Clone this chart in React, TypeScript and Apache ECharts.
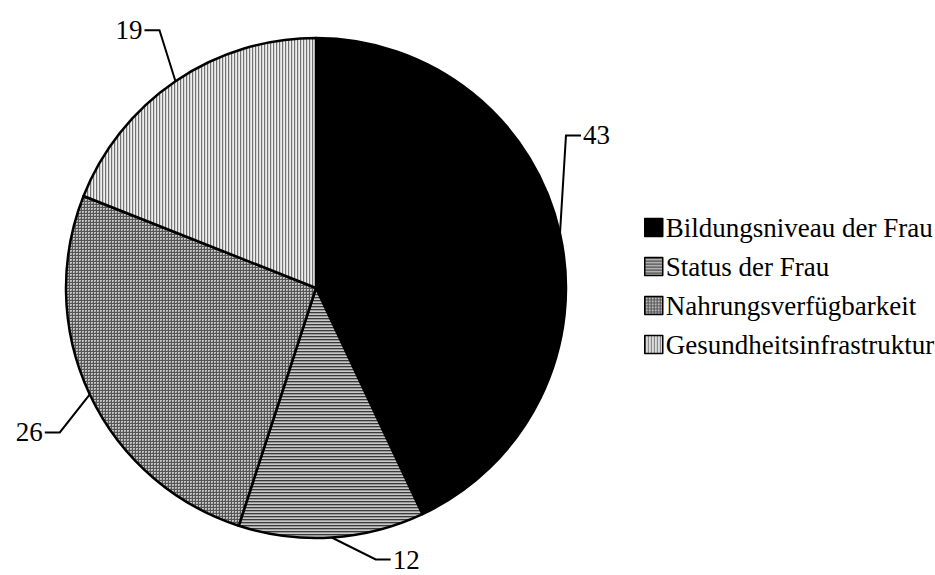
import React, { useEffect, useRef } from "react";
import * as echarts from "echarts";

// Anteile der Einflussfaktoren (in %)
const categories = [
  "Bildungsniveau der Frau",
  "Status der Frau",
  "Nahrungsverfügbarkeit",
  "Gesundheitsinfrastruktur",
];
const shares = [43, 12, 26, 19];

// Leader-line bends for each label: offset of the elbow from the slice edge, and the tail direction
const bendDx = [6, 44, -30, -16];
const bendDy = [-98, 22, 38, -51];
const tailDir = [1, 1, -1, -1];

type Painter = (ctx: CanvasRenderingContext2D, w: number, h: number) => void;

function makeTile(w: number, h: number, paint: Painter): HTMLCanvasElement {
  const c = document.createElement("canvas");
  c.width = w;
  c.height = h;
  const ctx = c.getContext("2d")!;
  paint(ctx, w, h);
  return c;
}

function horizontalLines() {
  return {
    image: makeTile(1, 3, (ctx) => {
      ctx.fillStyle = "#9a9a9a";
      ctx.fillRect(0, 0, 1, 3);
      ctx.fillStyle = "#3a3a3a";
      ctx.fillRect(0, 0, 1, 1);
      ctx.fillStyle = "#c8c8c8";
      ctx.fillRect(0, 2, 1, 1);
    }),
    repeat: "repeat",
  };
}

function gridLines() {
  return {
    image: makeTile(3, 3, (ctx) => {
      ctx.fillStyle = "#c4c4c4";
      ctx.fillRect(0, 0, 3, 3);
      ctx.fillStyle = "#555555";
      ctx.fillRect(0, 0, 3, 1);
      ctx.fillRect(0, 0, 1, 3);
      ctx.fillStyle = "#969696";
      ctx.fillRect(2, 2, 1, 1);
    }),
    repeat: "repeat",
  };
}

function verticalLines() {
  return {
    image: makeTile(3, 1, (ctx) => {
      ctx.fillStyle = "#d6d6d6";
      ctx.fillRect(0, 0, 3, 1);
      ctx.fillStyle = "#727272";
      ctx.fillRect(0, 0, 1, 1);
      ctx.fillStyle = "#eeeeee";
      ctx.fillRect(2, 0, 1, 1);
    }),
    repeat: "repeat",
  };
}

export default function App() {
  const ref = useRef<HTMLDivElement>(null);

  useEffect(() => {
    document.body.style.margin = "0";
    const chart = echarts.init(ref.current!, null, { renderer: "svg" });
    const fills: any[] = ["#000000", horizontalLines(), gridLines(), verticalLines()];
    const font = "'Liberation Serif', 'Times New Roman', serif";

    chart.setOption({
      animation: false,
      backgroundColor: "#ffffff",
      legend: {
        orient: "vertical",
        left: 644,
        top: 214,
        padding: 0,
        itemWidth: 18,
        itemHeight: 18,
        itemGap: 12,
        icon: "rect",
        data: categories,
        selectedMode: false,
        textStyle: {
          fontFamily: font,
          fontSize: 27,
          color: "#000",
          padding: [0, 0, 0, -2],
        },
        itemStyle: { borderColor: "#000", borderWidth: 1.5 },
      },
      series: [
        {
          type: "pie",
          center: [316, 288],
          radius: [0, 250],
          startAngle: 90,
          clockwise: true,
          avoidLabelOverlap: false,
          itemStyle: { borderColor: "#000", borderWidth: 2.5 },
          emphasis: { disabled: true },
          label: {
            show: true,
            position: "outside",
            formatter: "{c}",
            fontFamily: font,
            fontSize: 27,
            lineHeight: 27,
            color: "#000",
          },
          labelLine: {
            show: true,
            length: 20,
            length2: 15,
            lineStyle: { color: "#000", width: 2 },
          },
          labelLayout: (params: any) => {
            const i = params.dataIndex;
            const start = params.labelLinePoints[0];
            const elbow = [start[0] + bendDx[i], start[1] + bendDy[i]];
            const dir = tailDir[i];
            const end = [elbow[0] + dir * 15, elbow[1]];
            return {
              x: end[0] + dir * 2,
              y: end[1],
              align: dir > 0 ? "left" : "right",
              verticalAlign: "middle",
              labelLinePoints: [start, elbow, end],
            };
          },
          data: categories.map((name, i) => ({
            name,
            value: shares[i],
            itemStyle: { color: fills[i] },
          })),
        },
      ],
    });

    return () => chart.dispose();
  }, []);

  return <div ref={ref} style={{ width: 935, height: 575 }} />;
}
